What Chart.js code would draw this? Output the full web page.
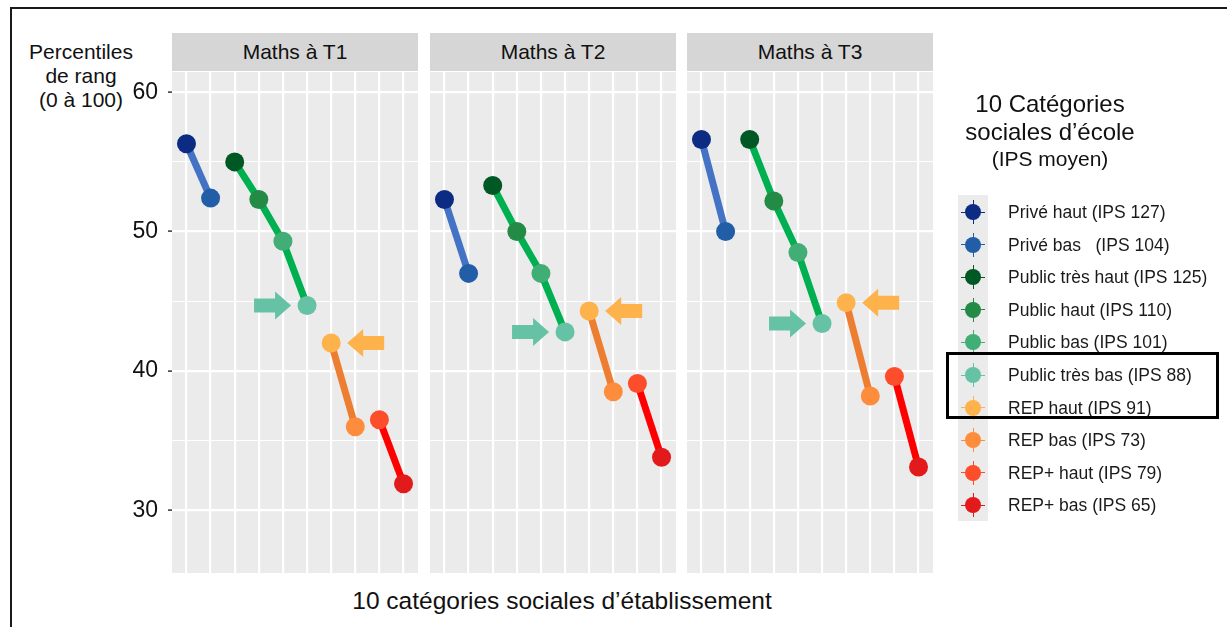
<!DOCTYPE html>
<html lang="fr">
<head>
<meta charset="utf-8">
<title>Percentiles de rang par catégorie sociale d’école</title>
<script src="https://cdn.jsdelivr.net/npm/chart.js@4.4.1/dist/chart.umd.min.js"></script>
<style>
  html, body { margin: 0; padding: 0; background: #fff; }
  body { width: 1227px; height: 627px; position: relative; overflow: hidden;
         font-family: "Liberation Sans", Arial, sans-serif; color: #111; }
  .frame { position: absolute; left: 10px; top: 7px; width: 1240px; height: 640px;
           border-top: 2px solid #1a1a1a; border-left: 2px solid #1a1a1a; }
  .panel { position: absolute; top: 72px; height: 501px; }
  .strip { position: absolute; top: 33px; height: 38px; width: 246px; background: #D6D6D6;
           font-size: 21px; line-height: 38px; text-align: center; }
  .ytitle { position: absolute; left: 16px; top: 40px; width: 130px; text-align: center;
            font-size: 21px; line-height: 24px; }
  .xtitle { position: absolute; left: 212px; top: 588px; width: 700px; text-align: center;
            font-size: 24.5px; line-height: 26px; }
  .ltitle { position: absolute; left: 930px; top: 90px; width: 240px; text-align: center; }
  .ltitle div { font-size: 24px; line-height: 28px; }
  .ltitle div.small { font-size: 21px; line-height: 26px; }
  .lcol { position: absolute; left: 958px; top: 195px; width: 30px; height: 326px; background: #EBEBEB; }
  .litem { position: absolute; left: 946px; height: 30px; width: 280px; }
  .lkey { position: absolute; left: 27px; top: 15px; }
  .lkey .dot { position: absolute; left: -8px; top: -8px; width: 16px; height: 16px; border-radius: 50%; }
  .lkey .h { position: absolute; left: -12px; top: -0.5px; width: 24px; height: 1px; }
  .lkey .v { position: absolute; left: -0.5px; top: -12px; width: 1px; height: 24px; }
  .llabel { position: absolute; left: 62px; top: 0; line-height: 30px; font-size: 17.5px; white-space: pre; color: #1a1a1a; }
  .highlight { position: absolute; left: 946px; top: 352px; width: 273px; height: 67px;
               border: 3px solid #000; box-sizing: border-box; }
</style>
</head>
<body>
<div class="frame"></div>

<div class="ytitle">Percentiles<br>de rang<br>(0 à 100)</div>
<div class="xtitle">10 catégories sociales d’établissement</div>

<div class="strip" id="strip0" style="left:172px"></div>
<div class="strip" id="strip1" style="left:430px"></div>
<div class="strip" id="strip2" style="left:687px"></div>

<div class="panel" style="left:100px;width:318px"><canvas id="c0" width="318" height="501"></canvas></div>
<div class="panel" style="left:430px;width:246px"><canvas id="c1" width="246" height="501"></canvas></div>
<div class="panel" style="left:687px;width:246px"><canvas id="c2" width="246" height="501"></canvas></div>

<div class="ltitle">
  <div>10 Catégories</div>
  <div>sociales d’école</div>
  <div class="small">(IPS moyen)</div>
</div>
<div class="lcol"></div>
<div id="legend"></div>
<div class="highlight"></div>

<script>
// 10 catégories sociales d'école (ordre de l'axe x)
const categories = ['Privé haut', 'Privé bas', 'Public très haut', 'Public haut', 'Public bas',
                    'Public très bas', 'REP haut', 'REP bas', 'REP+ haut', 'REP+ bas'];
const legendLabels = ['Privé haut (IPS 127)', 'Privé bas   (IPS 104)', 'Public très haut (IPS 125)',
                      'Public haut (IPS 110)', 'Public bas (IPS 101)', 'Public très bas (IPS 88)',
                      'REP haut (IPS 91)', 'REP bas (IPS 73)', 'REP+ haut (IPS 79)', 'REP+ bas (IPS 65)'];
const panelTitles = ['Maths à T1', 'Maths à T2', 'Maths à T3'];

// percentiles de rang
const mathsT1 = [56.3, 52.4, 55.0, 52.3, 49.3, 44.7, 42.0, 36.0, 36.5, 31.9];
const mathsT2 = [52.3, 47.0, 53.3, 50.0, 47.0, 42.8, 44.3, 38.5, 39.1, 33.8];
const mathsT3 = [56.6, 50.0, 56.6, 52.2, 48.5, 43.4, 44.9, 38.2, 39.6, 33.1];

const yTicks = [30, 40, 50, 60];
const yMinorTicks = [35, 45, 55];

// segments reliés : privé, public, REP, REP+
const groups = [[0, 1], [2, 3, 4, 5], [6, 7], [8, 9]];
const groupColors = ['#4472C4', '#00B050', '#ED7D31', '#FF0000'];
const pointColors = ['#0C2C84', '#225EA8', '#005824', '#238B45', '#41AE76',
                     '#66C2A4', '#FEB24C', '#FD8D3C', '#FC4E2A', '#E31A1C'];

// flèches : vers "Public très bas" (depuis la gauche) et "REP haut" (depuis la droite)
const arrowMarks = [{ index: 5, dir: 1, color: '#66C2A4' }, { index: 6, dir: -1, color: '#FEB24C' }];

const panelBg = {
  id: 'panelBg',
  beforeDraw(chart) {
    const a = chart.chartArea, ctx = chart.ctx;
    ctx.save();
    ctx.fillStyle = '#EBEBEB';
    ctx.fillRect(a.left, a.top, a.right - a.left, a.bottom - a.top);
    ctx.restore();
  }
};

const arrows = {
  id: 'arrows',
  afterDatasetsDraw(chart, args, opts) {
    const ctx = chart.ctx, xs = chart.scales.x, ys = chart.scales.y;
    opts.marks.forEach(m => {
      const px = xs.getPixelForValue(m.index);
      const py = ys.getPixelForValue(opts.values[m.index]);
      const tip = px - m.dir * 16;
      const neck = tip - m.dir * 16;
      const tail = tip - m.dir * 37;
      ctx.save();
      ctx.fillStyle = m.color;
      ctx.beginPath();
      ctx.moveTo(tail, py - 7);
      ctx.lineTo(neck, py - 7);
      ctx.lineTo(neck, py - 14);
      ctx.lineTo(tip, py);
      ctx.lineTo(neck, py + 14);
      ctx.lineTo(neck, py + 7);
      ctx.lineTo(tail, py + 7);
      ctx.closePath();
      ctx.fill();
      ctx.restore();
    });
  }
};

function makePanel(canvasId, values, withAxis) {
  const datasets = groups.map((g, k) => ({
    data: g.map(i => ({ x: i, y: values[i] })),
    borderColor: groupColors[k],
    borderWidth: 7,
    pointBackgroundColor: g.map(i => pointColors[i]),
    pointBorderWidth: 0,
    pointRadius: 9.5,
    pointHoverRadius: 9.5,
    tension: 0,
    clip: false
  }));

  return new Chart(document.getElementById(canvasId), {
    type: 'line',
    data: { datasets: datasets },
    plugins: [panelBg, arrows],
    options: {
      responsive: false,
      animation: false,
      events: [],
      layout: { padding: 0, autoPadding: false },
      plugins: {
        legend: { display: false },
        tooltip: { enabled: false },
        arrows: { marks: arrowMarks, values: values }
      },
      scales: {
        x: {
          type: 'linear',
          min: -0.6,
          max: 9.6,
          afterBuildTicks: s => { s.ticks = categories.map((c, i) => ({ value: i })); },
          ticks: { display: false },
          grid: { color: '#FFFFFF', lineWidth: 2.2, drawTicks: false },
          border: { display: false }
        },
        y: {
          type: 'linear',
          min: 25.5,
          max: 61.45,
          afterBuildTicks: s => {
            s.ticks = yTicks.concat(yMinorTicks).sort((a, b) => a - b).map(v => ({ value: v }));
          },
          afterFit: s => {
            if (withAxis) s.width = 72;
            s.paddingTop = 0;
            s.paddingBottom = 0;
          },
          ticks: {
            display: withAxis,
            padding: 10,
            color: '#111',
            font: { family: '"Liberation Sans", Arial, sans-serif', size: 23 },
            callback: v => (yTicks.includes(v) ? String(v) : '')
          },
          grid: {
            color: '#FFFFFF',
            lineWidth: c => (yTicks.includes(c.tick.value) ? 2.2 : 1.1),
            drawTicks: withAxis,
            tickLength: 4,
            tickWidth: 1.5,
            tickColor: c => (yTicks.includes(c.tick.value) ? '#333333' : 'rgba(0,0,0,0)')
          },
          border: { display: false }
        }
      }
    }
  });
}

makePanel('c0', mathsT1, true);
makePanel('c1', mathsT2, false);
makePanel('c2', mathsT3, false);

panelTitles.forEach((t, i) => { document.getElementById('strip' + i).textContent = t; });

// légende
const legend = document.getElementById('legend');
legendLabels.forEach((lab, i) => {
  const item = document.createElement('div');
  item.className = 'litem';
  item.style.top = (197 + i * 32.6) + 'px';
  const c = pointColors[i];
  item.innerHTML =
    '<div class="lkey"><div class="h" style="background:' + c + '"></div>' +
    '<div class="v" style="background:' + c + '"></div>' +
    '<div class="dot" style="background:' + c + '"></div></div>' +
    '<div class="llabel"></div>';
  item.querySelector('.llabel').textContent = lab;
  legend.appendChild(item);
});
</script>
</body>
</html>
